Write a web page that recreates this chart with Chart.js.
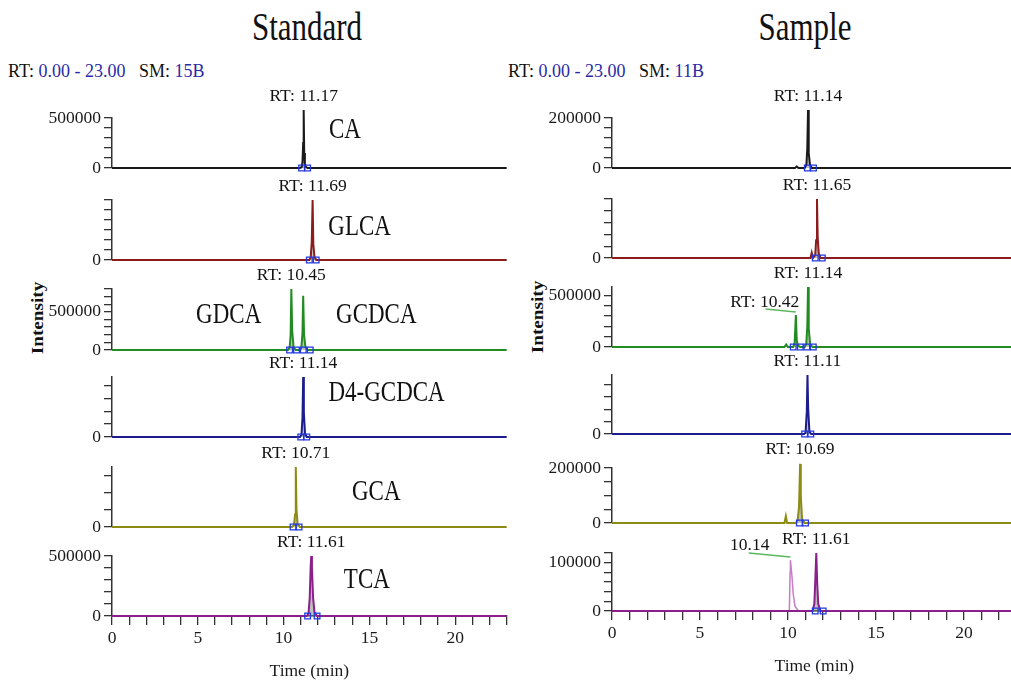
<!DOCTYPE html>
<html>
<head>
<meta charset="utf-8">
<script src="https://cdn.jsdelivr.net/npm/chart.js@4.4.1/dist/chart.umd.min.js"></script>
<style>
html, body { margin: 0; padding: 0; overflow: hidden; background: #fff; }
#wrap { position: relative; width: 1011px; height: 682px; overflow: hidden; font-family: 'Liberation Serif', 'Times New Roman', serif; color: #111; }
#wrap canvas { position: absolute; }
.head { position: absolute; font-size: 31px; white-space: nowrap; transform: translate(-50%, -50%) scaleY(1.3); }
.info { position: absolute; font-size: 18px; white-space: nowrap; }
.info span { color: #2a2aa8; }
.ylab { position: absolute; font-size: 16px; font-weight: bold; white-space: nowrap; transform: translate(-50%, -50%) rotate(-90deg) scaleX(1.2); }
</style>
</head>
<body>
<div id="wrap">
  <div class="head" style="left:307px; top:27px;">Standard</div>
  <div class="head" style="left:805px; top:27px;">Sample</div>
  <div class="info" style="left:8px; top:61px;">RT: <span>0.00 - 23.00</span>&nbsp;&nbsp; SM: <span>15B</span></div>
  <div class="info" style="left:508px; top:61px;">RT: <span>0.00 - 23.00</span>&nbsp;&nbsp; SM: <span>11B</span></div>
  <div class="ylab" style="left:38px; top:318px;">Intensity</div>
  <div class="ylab" style="left:538px; top:317px;">Intensity</div>
</div>
<script>
// time axis (min)
const xMin = 0, xMax = 23, xStep = 1;
const xTickLabels = [0, 5, 10, 15, 20];

// ---- Standard ----
const caStdT = [0, 10.95, 11.05, 11.1, 11.14, 11.17, 11.2, 11.24, 11.3, 11.4, 23];
const caStdI = [0, 0, 8000, 60000, 250000, 580000, 150000, 40000, 10000, 0, 0];
const caStdM = [11.05, 11.4];

const glcaStdT = [0, 11.5, 11.58, 11.64, 11.69, 11.73, 11.8, 11.9, 23];
const glcaStdI = [0, 0, 15000, 90000, 300000, 80000, 15000, 0, 0];
const glcaStdM = [11.5, 11.9];

const gdcaStdT = [0, 10.25, 10.35, 10.41, 10.45, 10.5, 10.58, 10.7, 10.95, 11.03, 11.1, 11.14, 11.19, 11.27, 11.4, 23];
const gdcaStdI = [0, 0, 30000, 200000, 800000, 250000, 40000, 0, 0, 30000, 220000, 710000, 200000, 40000, 0, 0];
const gdcaStdM = [10.35, 10.75, 11.15, 11.55];

const d4StdT = [0, 10.95, 11.04, 11.1, 11.14, 11.18, 11.25, 11.35, 23];
const d4StdI = [0, 0, 10000, 90000, 280000, 110000, 15000, 0, 0];
const d4StdM = [11.0, 11.35];

const gcaStdT = [0, 10.5, 10.6, 10.67, 10.71, 10.75, 10.82, 10.95, 23];
const gcaStdI = [0, 0, 20000, 150000, 700000, 200000, 30000, 0, 0];
const gcaStdM = [10.55, 10.9];

const tcaStdT = [0, 11.35, 11.45, 11.52, 11.58, 11.61, 11.65, 11.72, 11.8, 11.95, 23];
const tcaStdI = [0, 0, 20000, 150000, 420000, 500000, 400000, 150000, 30000, 0, 0];
const tcaStdM = [11.4, 11.95];

// ---- Sample ----
const caSmpT = [0, 10.4, 10.5, 10.6, 10.95, 11.05, 11.1, 11.14, 11.18, 11.25, 11.35, 23];
const caSmpI = [0, 0, 6000, 0, 0, 15000, 80000, 232000, 60000, 15000, 0, 0];
const caSmpM = [11.1, 11.45];

const glcaSmpT = [0, 11.28, 11.35, 11.42, 11.55, 11.6, 11.65, 11.69, 11.75, 11.85, 23];
const glcaSmpI = [0, 0, 9000, 0, 5000, 30000, 100000, 35000, 8000, 0, 0];
const glcaSmpM = [11.55, 11.95];

const gdcaSmpT = [0, 9.8, 9.9, 10.0, 10.3, 10.38, 10.45, 10.5, 10.58, 10.7, 10.95, 11.04, 11.1, 11.14, 11.18, 11.26, 11.4, 23];
const gdcaSmpI = [0, 0, 25000, 0, 0, 40000, 310000, 60000, 10000, 0, 0, 30000, 200000, 580000, 180000, 30000, 0, 0];
const gdcaSmpM = [10.3, 10.7, 11.07, 11.44];
const gdcaLeadT = [8.73, 10.45];
const gdcaLeadI = [367000, 338000];

const d4SmpT = [0, 10.92, 11.0, 11.07, 11.11, 11.15, 11.22, 11.32, 23];
const d4SmpI = [0, 0, 10000, 180000, 480000, 200000, 20000, 0, 0];
const d4SmpM = [10.95, 11.3];

const gcaSmpT = [0, 9.8, 9.88, 9.95, 10.45, 10.55, 10.63, 10.69, 10.73, 10.8, 10.95, 23];
const gcaSmpI = [0, 0, 25000, 0, 0, 10000, 60000, 215000, 100000, 15000, 0, 0];
const gcaSmpM = [10.65, 11.0];

const tcaSmpT = [0, 11.4, 11.5, 11.56, 11.61, 11.66, 11.72, 11.85, 23];
const tcaSmpI = [0, 0, 15000, 70000, 120000, 60000, 15000, 0, 0];
const tcaSmpM = [11.55, 12.0];
const tca2SmpT = [10.08, 10.12, 10.14, 10.22, 10.3, 10.4, 10.55, 10.65];
const tca2SmpI = [0, 80000, 105000, 75000, 35000, 10000, 2000, 0];
const tcaLeadT = [7.77, 10.14];
const tcaLeadI = [120000, 111700];

const BLACK = '#1a1a1a', RED = '#8c1c1c', GREEN = '#228b22', BLUE = '#1c1c8c', OLIVE = '#8c8c14', PURPLE = '#8b1f8b';
const NAME_FONT = "23px 'Liberation Serif', serif";
const RT_FONT = "17.5px 'Liberation Serif', serif";

const panels = [
  // left column (Standard)
  { left: true, top: 118, zero: 168, max: 500000, step: 100000, yLabels: [0, 500000], color: BLACK, t: caStdT, i: caStdI, m: caStdM,
    texts: [{ text: 'CA', x: 13.57, y: 380000, font: NAME_FONT, sy: 1.3 }] },
  { left: true, top: 200, zero: 260, max: 300000, step: 50000, yLabels: [0], color: RED, t: glcaStdT, i: glcaStdI, m: glcaStdM,
    texts: [{ text: 'GLCA', x: 14.43, y: 165000, font: NAME_FONT, sy: 1.3 }] },
  { left: true, top: 289, zero: 350, max: 800000, step: 100000, yLabels: [0, 500000], color: GREEN, t: gdcaStdT, i: gdcaStdI, m: gdcaStdM,
    texts: [{ text: 'GDCA', x: 6.8, y: 460000, font: NAME_FONT, sy: 1.3 }, { text: 'GCDCA', x: 15.4, y: 460000, font: NAME_FONT, sy: 1.3 }] },
  { left: true, top: 377, zero: 437, max: 280000, step: 60000, yLabels: [0], color: BLUE, t: d4StdT, i: d4StdI, m: d4StdM,
    texts: [{ text: 'D4-GCDCA', x: 16.0, y: 205000, font: NAME_FONT, sy: 1.3 }] },
  { left: true, top: 467, zero: 527, max: 700000, step: 200000, yLabels: [0], color: OLIVE, t: gcaStdT, i: gcaStdI, m: gcaStdM,
    texts: [{ text: 'GCA', x: 15.4, y: 408000, font: NAME_FONT, sy: 1.3 }] },
  { left: true, bottom: true, top: 556, zero: 616, max: 500000, step: 100000, yLabels: [0, 500000], color: PURPLE, t: tcaStdT, i: tcaStdI, m: tcaStdM,
    texts: [{ text: 'TCA', x: 14.85, y: 300000, font: NAME_FONT, sy: 1.3 }] },
  // right column (Sample)
  { top: 118, zero: 168, max: 200000, step: 40000, yLabels: [0, 200000], color: BLACK, t: caSmpT, i: caSmpI, m: caSmpM, texts: [] },
  { top: 199, zero: 258, max: 100000, step: 20000, yLabels: [0], color: RED, t: glcaSmpT, i: glcaSmpI, m: glcaSmpM, texts: [] },
  { top: 287, zero: 347, max: 580000, step: 100000, yLabels: [0, 500000], color: GREEN, t: gdcaSmpT, i: gdcaSmpI, m: gdcaSmpM,
    lead: [gdcaLeadT, gdcaLeadI],
    texts: [{ text: 'RT: 10.42', x: 8.68, y: 435000, font: RT_FONT }] },
  { top: 375, zero: 434, max: 480000, step: 100000, yLabels: [0], color: BLUE, t: d4SmpT, i: d4SmpI, m: d4SmpM, texts: [] },
  { top: 468, zero: 523, max: 200000, step: 50000, yLabels: [0, 200000], color: OLIVE, t: gcaSmpT, i: gcaSmpI, m: gcaSmpM, texts: [] },
  { bottom: true, top: 553, zero: 611, max: 120000, step: 20000, yLabels: [0, 100000], color: PURPLE, t: tcaSmpT, i: tcaSmpI, m: tcaSmpM,
    extra: [tca2SmpT, tca2SmpI], lead: [tcaLeadT, tcaLeadI],
    texts: [{ text: '10.14', x: 7.83, y: 136500, font: RT_FONT }] }
];

const pts = (t, v) => t.map((x, k) => ({ x: x, y: v[k] }));

// tick values every `step` from lo to hi
function stepTicks(lo, hi, step) {
  const out = [];
  for (let v = lo; v <= hi + 1e-9; v += step) out.push({ value: Math.round(v * 1000) / 1000 });
  return out;
}

// draws text labels positioned in data units
const annot = {
  id: 'annot',
  afterDatasetsDraw(chart, args, opts) {
    const { ctx } = chart;
    const xs = chart.scales.x, ys = chart.scales.y;
    ctx.save();
    ctx.fillStyle = '#111';
    ctx.textAlign = 'center';
    ctx.textBaseline = 'middle';
    (opts.labels || []).forEach(l => {
      ctx.save();
      ctx.translate(xs.getPixelForValue(l.x), ys.getPixelForValue(l.y) + (l.dy || 0));
      ctx.scale(1, l.sy || 1);
      ctx.font = l.font;
      ctx.fillText(l.text, 0, 0);
      ctx.restore();
    });
    ctx.restore();
  }
};

Chart.defaults.font.family = "'Liberation Serif', 'Times New Roman', serif";
Chart.defaults.font.size = 17.5;
Chart.defaults.color = '#1a1a1a';

const wrap = document.getElementById('wrap');
const PAD_TOP = 36;

panels.forEach(p => {
  const colLeft = p.left ? 0 : 500;
  const colW = p.left ? 512 : 522;
  const axisH = p.bottom ? 66 : 0;
  const padBottom = p.bottom ? (p.left ? 0 : 5) : 20;
  const cv = document.createElement('canvas');
  cv.width = colW;
  cv.height = PAD_TOP + (p.zero - p.top) + axisH + padBottom;
  cv.style.left = colLeft + 'px';
  cv.style.top = (p.top - PAD_TOP) + 'px';
  wrap.appendChild(cv);

  // RT label over the tallest peak
  let k = 0;
  p.i.forEach((v, j) => { if (v > p.i[k]) k = j; });
  const labels = [{ text: 'RT: ' + p.t[k].toFixed(2), x: p.t[k], y: p.i[k], dy: -14, font: RT_FONT }].concat(p.texts);

  const datasets = [];
  datasets.push({
    data: pts(p.m, p.m.map(() => 0)), showLine: false, pointStyle: 'rect', pointRadius: 4,
    pointBorderColor: '#2238e0', pointBackgroundColor: 'rgba(0,0,0,0)', pointBorderWidth: 1.3, clip: false, order: 0
  });
  if (p.lead) {
    datasets.push({ data: pts(p.lead[0], p.lead[1]), borderColor: '#5cb85c', borderWidth: 1.5, pointRadius: 0, fill: false, clip: false, order: 1 });
  }
  if (p.extra) {
    datasets.push({ data: pts(p.extra[0], p.extra[1]), borderColor: '#c77dc7', borderWidth: 1.5, pointRadius: 0, fill: false, clip: false, order: 3 });
  }
  datasets.push({
    data: pts(p.t, p.i), borderColor: p.color, borderWidth: 2, pointRadius: 0, tension: 0,
    fill: 'origin', backgroundColor: 'rgba(140,140,140,0.55)', clip: false, order: 2
  });

  new Chart(cv, {
    type: 'line',
    data: { datasets: datasets },
    options: {
      responsive: false,
      animation: false,
      events: [],
      layout: { padding: { top: PAD_TOP, bottom: padBottom, left: 0, right: p.left ? 3 : 2 } },
      plugins: { legend: { display: false }, tooltip: { enabled: false }, annot: { labels: labels } },
      scales: {
        x: {
          type: 'linear', min: xMin, max: xMax,
          display: !!p.bottom,
          afterFit: s => { s.height = axisH; },
          afterBuildTicks: s => { s.ticks = stepTicks(xMin, xMax, xStep); },
          border: { display: true, color: '#333', width: 1.5 },
          grid: { drawOnChartArea: false, drawTicks: true, tickLength: 9, color: '#333', lineWidth: 1.3 },
          ticks: {
            autoSkip: false, maxRotation: 0, padding: 3, color: '#1a1a1a',
            callback: v => xTickLabels.includes(v) ? String(v) : ''
          },
          title: { display: true, text: 'Time (min)', color: '#1a1a1a', padding: { top: 0, bottom: 0 } }
        },
        y: {
          type: 'linear', min: 0, max: p.max,
          afterFit: s => { s.width = 112; },
          afterBuildTicks: s => { s.ticks = stepTicks(0, p.max, p.step); },
          border: { display: true, color: '#333', width: 1.5 },
          grid: { drawOnChartArea: false, drawTicks: true, tickLength: 8, color: '#333', lineWidth: 1.3 },
          ticks: {
            autoSkip: false, padding: 3, color: '#1a1a1a',
            callback: v => p.yLabels.includes(v) ? String(v) : ''
          }
        }
      }
    },
    plugins: [annot]
  });
});
</script>
</body>
</html>
